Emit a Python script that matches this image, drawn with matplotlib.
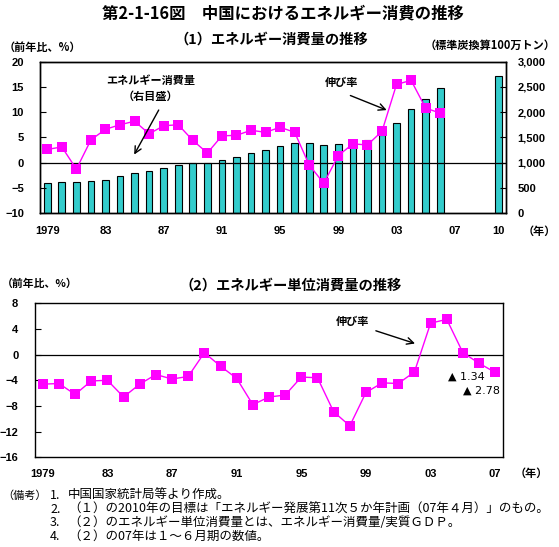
import numpy as np
import matplotlib
matplotlib.use('Agg')
import matplotlib.pyplot as plt

plt.rcParams['font.family'] = ['Liberation Sans', 'Noto Sans CJK JP', 'DejaVu Sans']
JP = ['Noto Sans CJK JP', 'DejaVu Sans']

#(1) energy consumption: growth rate (left axis, %) and volume (right axis, Mt coal equivalent)
years = list(range(1979, 2007))
growth = [2.6, 3.1, -1.3, 4.5, 6.6, 7.5, 8.2, 5.7, 7.3, 7.5, 4.4, 1.9, 5.3, 5.4,
          6.4, 6.0, 7.0, 6.0, -0.5, -4.1, 1.4, 3.7, 3.5, 6.2, 15.5, 16.3, 10.8, 9.8]
bar_years = list(range(1979, 2007)) + [2010]
consumption = [586, 612, 612, 632, 664, 724, 789, 829, 888, 947, 987, 987, 1046, 1105,
               1184, 1243, 1322, 1395, 1395, 1342, 1362, 1305, 1441, 1539, 1776, 2053,
               2270, 2487, 2717]
top_xticks = [1979, 1983, 1987, 1991, 1995, 1999, 2003, 2007, 2010]
top_xlabels = ['1979', '83', '87', '91', '95', '99', '03', '07', '10']

#(2) energy consumption per unit of GDP, growth rate (%)
unit_years = list(range(1979, 2008))
unit_growth = [-4.6, -4.5, -6.2, -4.1, -4.0, -6.6, -4.6, -3.1, -3.8, -3.4, 0.3, -1.8,
               -3.7, -7.8, -6.6, -6.3, -3.5, -3.6, -8.9, -11.1, -5.9, -4.4, -4.5, -2.7,
               4.9, 5.5, 0.3, -1.34, -2.78]
bot_xticks = [1979, 1983, 1987, 1991, 1995, 1999, 2003, 2007]
bot_xlabels = ['1979', '83', '87', '91', '95', '99', '03', '07']

notes = ['1.', '2.', '3.', '4.']
note_texts = ['中国国家統計局等より作成。',
              '（１）の2010年の目標は「エネルギー発展第11次５か年計画（07年４月）」のもの。',
              '（２）のエネルギー単位消費量とは、エネルギー消費量/実質ＧＤＰ。',
              '（２）の07年は１～６月期の数値。']

W, H = 559, 547
fig = plt.figure(figsize=(W / 100, H / 100), dpi=100)

def fx(px):
    return px / W

def fy(py):
    return 1 - py / H

bar_color = '#33CCCC'
line_color = '#FF00FF'
tick_kw = dict(labelsize=8, direction='in', length=4, width=0.8)

#---- top chart ----
rect = [fx(40), fy(213), fx(505.7) - fx(40), fy(61.7) - fy(213)]
ax_bar = fig.add_axes(rect)
ax_bar.bar(bar_years, consumption, width=0.46, color=bar_color, edgecolor='black', linewidth=0.8)
ax_bar.set_ylim(0, 3000)
ax_bar.set_xlim(1978.5, 2010.5)
ax_bar.yaxis.tick_right()
ax_bar.set_yticks(range(0, 3001, 500))
ax_bar.set_yticklabels(['{:,}'.format(v) for v in range(0, 3001, 500)])
ax_bar.tick_params(axis='y', pad=8.4, **tick_kw)
ax_bar.set_xticks(top_xticks)
ax_bar.set_xticklabels(top_xlabels)
ax_bar.tick_params(axis='x', length=0, labelsize=8, pad=9.5)

ax_line = fig.add_axes(rect, sharex=ax_bar)
ax_line.patch.set_visible(False)
ax_line.axhline(0, color='black', lw=0.9, zorder=1)
ax_line.plot(years, growth, color=line_color, lw=1, marker='s', markersize=6.8,
             markeredgewidth=0, zorder=3)
ax_line.set_ylim(-10, 20)
ax_line.set_yticks(range(-10, 21, 5))
ax_line.tick_params(axis='y', pad=11.5, **tick_kw)
ax_line.tick_params(axis='x', labelbottom=False, length=0)
for a in (ax_bar, ax_line):
    for s in a.spines.values():
        s.set_linewidth(1)
for lbl in ax_bar.get_xticklabels() + ax_bar.get_yticklabels() + ax_line.get_yticklabels():
    lbl.set_fontweight('bold')

ax_line.annotate('', xy=(1984.88, 1.1), xytext=(1986.75, 10.9),
                 arrowprops=dict(arrowstyle='->', lw=1, color='black', mutation_scale=12))
ax_line.text(1986.1, 14.7, 'エネルギー消費量\n（右目盛）', ha='center', va='center',
             fontsize=8, family=JP, fontweight='bold', linespacing=1.25)
ax_line.annotate('', xy=(2002.5, 10.2), xytext=(1999.65, 13.5),
                 arrowprops=dict(arrowstyle='->', lw=1, color='black', mutation_scale=12))
ax_line.text(1999.2, 15.8, '伸び率', ha='center', va='center', fontsize=8, family=JP,
             fontweight='bold')

#---- bottom chart ----
rect2 = [fx(34.7), fy(457.3), fx(503.3) - fx(34.7), fy(303.3) - fy(457.3)]
ax2 = fig.add_axes(rect2)
ax2.axhline(0, color='black', lw=0.9, zorder=1)
ax2.plot(unit_years, unit_growth, color=line_color, lw=1, marker='s', markersize=6.8,
         markeredgewidth=0, zorder=3)
ax2.set_xlim(1978.5, 2007.5)
ax2.set_ylim(-16, 8)
ax2.set_yticks(range(-16, 9, 4))
ax2.tick_params(axis='y', pad=11.8, **tick_kw)
ax2.set_xticks(bot_xticks)
ax2.set_xticklabels(bot_xlabels)
ax2.tick_params(axis='x', length=0, labelsize=8, pad=8.5)
for s in ax2.spines.values():
    s.set_linewidth(1)
for lbl in ax2.get_xticklabels() + ax2.get_yticklabels():
    lbl.set_fontweight('bold')

ax2.annotate('', xy=(2002.2, 1.6), xytext=(1999.45, 3.85),
             arrowprops=dict(arrowstyle='->', lw=1, color='black', mutation_scale=12))
ax2.text(1998.15, 5.1, '伸び率', ha='center', va='center', fontsize=8, family=JP,
         fontweight='bold')
ax2.text(2004.1, -3.5, '▲ %.2f' % -unit_growth[-2], ha='left', va='center', fontsize=8,
         family=['DejaVu Sans'])
ax2.text(2005.0, -5.65, '▲ %.2f' % -unit_growth[-1], ha='left', va='center', fontsize=8,
         family=['DejaVu Sans'])

#---- titles and labels ----
fig.text(fx(283), fy(13), '第2-1-16図　中国におけるエネルギー消費の推移', ha='center',
         va='center', fontsize=11.8, family=JP, fontweight='bold')
fig.text(fx(271), fy(40), '（1）エネルギー消費量の推移', ha='center', va='center',
         fontsize=10.3, family=JP, fontweight='bold')
fig.text(fx(291), fy(286), '（2）エネルギー単位消費量の推移', ha='center', va='center',
         fontsize=10.3, family=JP, fontweight='bold')
fig.text(fx(4), fy(47), '（前年比、%）', ha='left', va='center', fontsize=8, family=JP,
         fontweight='bold')
fig.text(fx(556), fy(45), '（標準炭換算100万トン）', ha='right', va='center', fontsize=8,
         family=JP, fontweight='bold')
fig.text(fx(556), fy(231.5), '（年）', ha='right', va='center', fontsize=8, family=JP,
         fontweight='bold')
fig.text(fx(2), fy(283.5), '（前年比、%）', ha='left', va='center', fontsize=7.8, family=JP,
         fontweight='bold')
fig.text(fx(548), fy(473.5), '（年）', ha='right', va='center', fontsize=8, family=JP,
         fontweight='bold')

#---- notes ----
note_y = [495.3, 509.3, 522.7, 536.7]
fig.text(fx(2), fy(note_y[0]), '（備考）', ha='left', va='center', fontsize=8, family=JP)
for n, t, yy in zip(notes, note_texts, note_y):
    fig.text(fx(50), fy(yy), n, ha='left', va='center', fontsize=9, family=JP)
    fig.text(fx(68), fy(yy), t, ha='left', va='center', fontsize=9, family=JP)

fig.savefig('out.png', dpi=100)
